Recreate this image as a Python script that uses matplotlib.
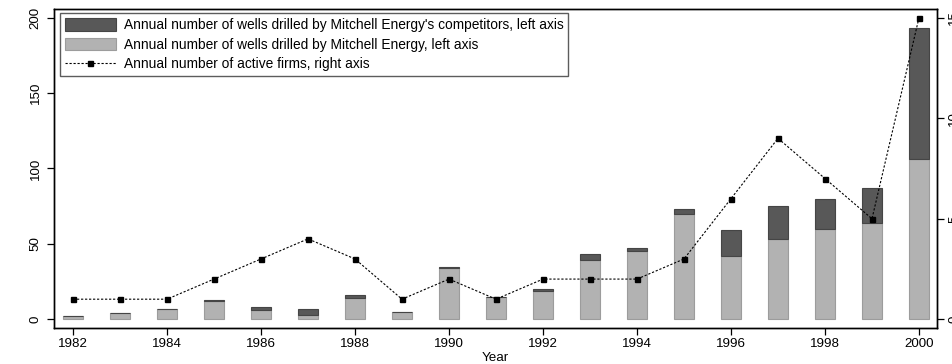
import numpy as np
import matplotlib
matplotlib.use('Agg')
import matplotlib.pyplot as plt
from matplotlib.patches import Patch
from matplotlib.lines import Line2D

plt.rcParams['font.family'] = ['Liberation Sans', 'DejaVu Sans']

years = list(range(1982, 2001))
mitchell_wells = [2, 4, 7, 12, 6, 3, 14, 5, 34, 15, 19, 39, 45, 70, 42, 53, 60, 64, 106]
competitor_wells = [0, 0, 0, 1, 2, 4, 2, 0, 1, 0, 1, 4, 2, 3, 17, 22, 20, 23, 87]
active_firms = [1, 1, 1, 2, 3, 4, 3, 1, 2, 1, 2, 2, 2, 3, 6, 9, 7, 5, 15]

light = '#b2b2b2'
dark = '#585858'

fig = plt.figure(figsize=(9.53, 3.64), dpi=100)
ax = fig.add_axes([0.0567, 0.0989, 0.9265, 0.8764])

ax.bar(years, mitchell_wells, width=0.43, color=light, edgecolor='#9c9c9c', linewidth=0.8)
ax.bar(years, competitor_wells, width=0.43, bottom=mitchell_wells, color=dark,
       edgecolor='#454545', linewidth=0.8)

ax.set_xlim(1981.596, 2000.383)
ax.set_ylim(-5.77, 205.77)
ax.set_xticks(np.arange(1982, 2001, 2))
ax.set_yticks([0, 50, 100, 150, 200])
ax.tick_params(axis='x', length=5, width=0.9, pad=2, labelsize=9.6)
ax.tick_params(axis='y', length=5, width=0.9, pad=4, labelsize=9.6, labelrotation=90)
for lbl in ax.get_yticklabels():
    lbl.set_va('center')
ax.set_xlabel('Year', fontsize=9.6, labelpad=1.5)

ax2 = ax.twinx()
ax2.plot(years, active_firms, color='black', linestyle=(0, (2, 1.6)), linewidth=0.8,
         marker='s', markersize=3.6)
ax2.set_ylim(-5.77 * 15 / 200, 205.77 * 15 / 200)
ax2.set_yticks([0, 5, 10, 15])
ax2.tick_params(axis='y', length=5, width=0.9, pad=3, labelsize=9.6, labelrotation=90)
for lbl in ax2.get_yticklabels():
    lbl.set_va('center')

for a in (ax, ax2):
    for s in a.spines.values():
        s.set_linewidth(1.0)
        s.set_color('black')

handles = [
    Patch(facecolor=dark, edgecolor='#454545', linewidth=0.8),
    Patch(facecolor=light, edgecolor='#9c9c9c', linewidth=0.8),
    Line2D([], [], color='black', linestyle=(0, (2, 1.6)), linewidth=0.8,
           marker='s', markersize=3.6),
]
labels = [
    "Annual number of wells drilled by Mitchell Energy's competitors, left axis",
    "Annual number of wells drilled by Mitchell Energy, left axis",
    "Annual number of active firms, right axis",
]
leg = ax2.legend(handles, labels, loc='upper left', bbox_to_anchor=(0.0067, 0.987),
                 fontsize=9.9, frameon=True, fancybox=False, edgecolor='#333333',
                 handlelength=3.7, handleheight=1.05, handletextpad=0.6,
                 labelspacing=0.4, borderpad=0.35, borderaxespad=0, numpoints=1)
leg.get_frame().set_linewidth(1.0)

fig.savefig('out.png', dpi=100)
